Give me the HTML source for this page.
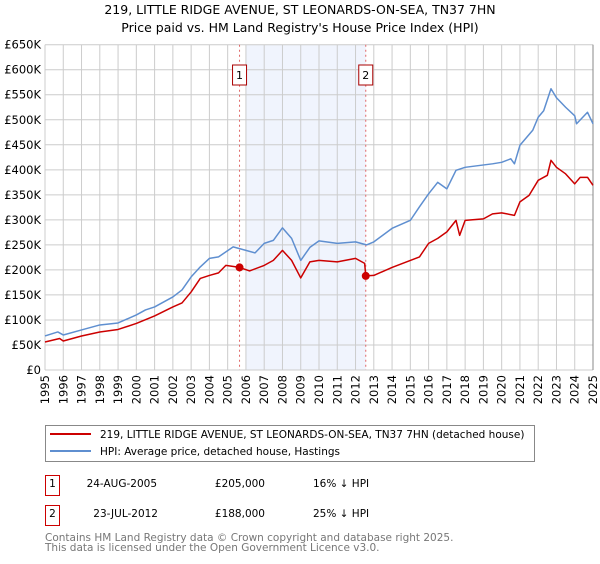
<!DOCTYPE html>
<html><head><meta charset="utf-8"><style>
body{margin:0;background:#fff;width:600px;height:560px;overflow:hidden;font-family:"DejaVu Sans","Liberation Sans",sans-serif}
svg text{font-family:"DejaVu Sans","Liberation Sans",sans-serif}
</style></head><body>
<svg id="chart" width="600" height="560" xmlns="http://www.w3.org/2000/svg">
<text x="300" y="14" text-anchor="middle" font-size="12.5">219, LITTLE RIDGE AVENUE, ST LEONARDS-ON-SEA, TN37 7HN</text>
<text x="300" y="32" text-anchor="middle" font-size="12.5">Price paid vs. HM Land Registry's House Price Index (HPI)</text>
<g id="grid"></g><g id="marks"></g>
<rect x="45.5" y="425.5" width="489" height="36" fill="#fff" stroke="#888"/>
<line x1="50" y1="434" x2="91" y2="434" stroke="#cc0000" stroke-width="2"/>
<text x="100" y="438" font-size="10.5">219, LITTLE RIDGE AVENUE, ST LEONARDS-ON-SEA, TN37 7HN (detached house)</text>
<line x1="50" y1="451" x2="91" y2="451" stroke="#5f8fd0" stroke-width="2"/>
<text x="100" y="455" font-size="10.5">HPI: Average price, detached house, Hastings</text>
<rect x="45.5" y="475.5" width="14" height="20" fill="#fff" stroke="#cc0000"/>
<text x="52.5" y="487" text-anchor="middle" font-size="10.5">1</text>
<text x="157" y="487" text-anchor="end" font-size="10.5">24-AUG-2005</text>
<text x="265" y="487" text-anchor="end" font-size="10.5">£205,000</text>
<text x="313" y="487" font-size="10.5">16% ↓ HPI</text>
<rect x="45.5" y="505.5" width="14" height="20" fill="#fff" stroke="#cc0000"/>
<text x="52.5" y="517" text-anchor="middle" font-size="10.5">2</text>
<text x="158" y="517" text-anchor="end" font-size="10.5">23-JUL-2012</text>
<text x="265" y="517" text-anchor="end" font-size="10.5">£188,000</text>
<text x="313" y="517" font-size="10.5">25% ↓ HPI</text>
<text x="45" y="541" font-size="10.5" fill="#777">Contains HM Land Registry data © Crown copyright and database right 2025.</text>
<text x="45" y="551" font-size="10.5" fill="#777">This data is licensed under the Open Government Licence v3.0.</text>
</svg>
<script>
const hpiYears=[1995,1995.7,1996,1997,1998,1999,2000,2000.5,2001,2002,2002.5,2003,2003.5,2004,2004.5,2005.3,2006,2006.5,2007,2007.5,2008,2008.5,2009,2009.5,2010,2011,2012,2012.6,2013,2014,2015,2015.5,2016,2016.5,2017,2017.5,2018,2019.5,2020,2020.5,2020.7,2021,2021.7,2022,2022.3,2022.7,2023,2023.5,2024,2024.1,2024.7,2025];
const hpiValues=[68,76,70,80,90,94,110,120,126,146,160,186,206,223,226,246,239,234,253,259,284,263,219,245,258,253,256,250,256,283,299,326,352,375,362,399,405,412,415,422,412,449,479,505,518,562,544,525,508,492,515,492];
const priceYears=[1995,1995.8,1996,1997,1998,1999,2000,2001,2002,2002.5,2003,2003.5,2004,2004.5,2004.9,2005.65,2006.2,2007,2007.5,2008,2008.5,2009,2009.5,2010,2011,2012,2012.5,2012.56,2013,2014,2015,2015.5,2016,2016.5,2017,2017.5,2017.7,2018,2019,2019.5,2020,2020.7,2021,2021.5,2022,2022.5,2022.7,2023,2023.5,2024,2024.3,2024.7,2025];
const priceValues=[56,63,58,68,76,81,93,108,126,134,156,183,189,194,209,205,198,209,219,239,219,184,216,219,216,223,213,188,189,205,219,226,253,263,276,299,269,299,302,312,314,309,336,349,379,389,419,405,392,372,385,385,369];
const sales=[{n:"1",year:2005.65,value:205},{n:"2",year:2012.56,value:188}];
const yTicks=[0,50,100,150,200,250,300,350,400,450,500,550,600,650];
const yTickLabels=["£0","£50K","£100K","£150K","£200K","£250K","£300K","£350K","£400K","£450K","£500K","£550K","£600K","£650K"];
const xTicks=[1995,1996,1997,1998,1999,2000,2001,2002,2003,2004,2005,2006,2007,2008,2009,2010,2011,2012,2013,2014,2015,2016,2017,2018,2019,2020,2021,2022,2023,2024,2025];
const NS="http://www.w3.org/2000/svg";
const X0=45,X1=593,Y0=370,Y1=44.7;
const xs=y=>X0+(y-1995)/30*(X1-X0);
const ys=v=>Y0-v/650*(Y0-Y1);
function mk(t,a,p){const e=document.createElementNS(NS,t);for(const k in a)e.setAttribute(k,a[k]);p.appendChild(e);return e;}
const grid=document.getElementById('grid'),marks=document.getElementById('marks');
const shade=mk('rect',{x:xs(2006),y:Y1,width:xs(2012.56)-xs(2006),height:Y0-Y1,fill:'#f0f4fd'},grid);


yTicks.forEach((v,i)=>{
 const l=mk('line',{x1:X0,x2:X1,y1:ys(v),y2:ys(v),stroke:'#ccc'},grid);
 
 
 const t=mk('text',{x:41,y:ys(v)+4,'text-anchor':'end','font-size':'11.5'},grid);
 
 
 t.textContent=yTickLabels[i];
});
xTicks.forEach(y=>{
 const l=mk('line',{x1:xs(y),x2:xs(y),y1:Y1,y2:Y0,stroke:'#ccc'},grid);
 
 
 const t=mk('text',{x:0,y:0,'text-anchor':'end','font-size':'11.5',transform:`translate(${xs(y)+4},375) rotate(-90)`},grid);
 
 
 t.textContent=y;
});
const ax=mk('line',{x1:X1,x2:X1,y1:Y1,y2:Y0,stroke:'#888'},grid);


sales.forEach(s=>{
 const l=mk('line',{x1:xs(s.year),x2:xs(s.year),y1:Y1,y2:Y0,stroke:'#e06666','stroke-dasharray':'2,3'},marks);
 
 
 const r=mk('rect',{x:xs(s.year)-7,y:65,width:14,height:20,fill:'#fff',stroke:'#aa0000'},marks);
 
 
 const t=mk('text',{x:xs(s.year),y:79,'text-anchor':'middle','font-size':'11'},marks);
 
 
 t.textContent=s.n;
});
function line(xa,va,col,name){
 const p=mk('polyline',{points:xa.map((y,i)=>xs(y)+','+ys(va[i])).join(' '),fill:'none',stroke:col,'stroke-width':1.5,'stroke-linejoin':'round'},marks);
 
 
}
line(hpiYears,hpiValues,'#5f8fd0','hpi-line');
line(priceYears,priceValues,'#cc0000','price-paid-line');
sales.forEach(s=>{
 const c=mk('circle',{cx:xs(s.year),cy:ys(s.value),r:4,fill:'#cc0000'},marks);
 
 
});
</script>
</body></html>
